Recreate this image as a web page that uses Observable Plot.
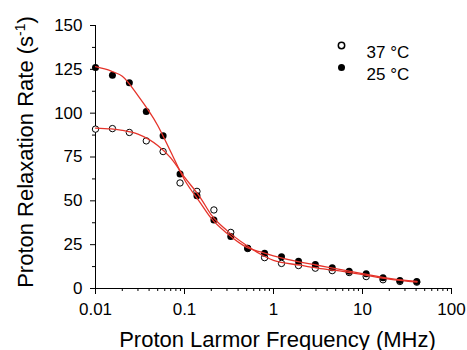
<!DOCTYPE html>
<html><head><meta charset="utf-8">
<script src="https://cdn.jsdelivr.net/npm/d3@7"></script>
<script src="https://cdn.jsdelivr.net/npm/@observablehq/plot@0.6"></script>
<style>
body{margin:0;background:#fff}
#chart{width:467px;height:350px}
</style>
</head><body><div id="chart"></div>
<script>
// measured frequencies (MHz) and relaxation rates (s^-1)
const freq   = [0.01, 0.0155, 0.024, 0.0372, 0.0575, 0.0891, 0.138, 0.214, 0.331, 0.513, 0.794, 1.23, 1.91, 2.95, 4.57, 7.08, 11.0, 17.0, 26.3, 40.7];
const rate37 = [90.9, 91.2, 89.0, 84.2, 78.1, 60.2, 55.4, 44.8, 32.0, 22.8, 17.6, 14.3, 13.1, 11.6, 10.2, 9.1, 6.8, 5.0, 4.0, 3.6];
const rate25 = [126.0, 121.6, 117.4, 100.9, 87.1, 65.3, 52.9, 39.1, 29.6, 22.9, 20.1, 18.1, 15.5, 13.7, 11.8, 9.9, 8.4, 6.1, 4.6, 4.0];
// fitted curves
const fitFreq = [0.01, 0.015, 0.02, 0.03, 0.05, 0.07, 0.1, 0.15, 0.2, 0.3, 0.5, 0.7, 1, 2, 3, 5, 10, 20, 41];
const fit25   = [126.5, 124, 121, 110, 93, 78, 62, 49, 40, 31.5, 23.5, 21, 18.6, 15, 13.4, 11.3, 8.5, 5.8, 4.1];
const fit37   = [91.5, 91, 90.2, 88, 81.5, 74.5, 63.5, 52, 42, 33, 24.5, 19.8, 16.0, 13.3, 11.8, 10.3, 7.9, 5.4, 3.7];
// ticks
const xMajor = [0.01, 0.1, 1, 10, 100];
const xMajorLabels = ["0.01", "0.1", "1", "10", "100"];
const xMinor = [0.02,0.03,0.04,0.05,0.06,0.07,0.08,0.09, 0.2,0.3,0.4,0.5,0.6,0.7,0.8,0.9, 2,3,4,5,6,7,8,9, 20,30,40,50,60,70,80,90];
const yMajor = [0, 25, 50, 75, 100, 125, 150];
const yMinor = [12.5, 37.5, 62.5, 87.5, 112.5, 137.5];
const legendLabels = ["37 °C", "25 °C"];
const xTitle = "Proton Larmor Frequency (MHz)";
const yTitle = "Proton Relaxation Rate (s-1)";

const pts37 = freq.map((f, i) => ({f, r: rate37[i]}));
const pts25 = freq.map((f, i) => ({f, r: rate25[i]}));
const curve25 = fitFreq.map((f, i) => ({f, r: fit25[i]}));
const curve37 = fitFreq.map((f, i) => ({f, r: fit37[i]}));

const red = "#e5332a";
const chart = Plot.plot({
  width: 467,
  height: 350,
  marginLeft: 95,
  marginRight: 16,
  marginTop: 25,
  marginBottom: 62,
  style: {fontFamily: "'Liberation Sans', Arial, Helvetica, sans-serif", fontSize: "17px", color: "black", background: "white"},
  x: {type: "log", domain: [0.01, 100], axis: null},
  y: {domain: [0, 150], axis: null},
  marks: [
    Plot.axisX(xMinor, {tickSize: 3, tickFormat: () => "", label: null}),
    Plot.axisX(xMajor, {tickSize: 6, tickPadding: 8, tickFormat: (d) => xMajorLabels[xMajor.indexOf(d)], fontSize: 17, label: null}),
    Plot.axisY(yMinor, {tickSize: 3, tickFormat: () => "", label: null}),
    Plot.axisY(yMajor, {tickSize: 5, tickPadding: 8, fontSize: 17, label: null}),
    Plot.ruleX([0.01], {y1: 0, y2: 150, stroke: "black"}),
    Plot.ruleY([0], {x1: 0.01, x2: 100, stroke: "black"}),
    Plot.dot(pts37, {x: "f", y: "r", r: 3.2, stroke: "black", fill: "white", strokeWidth: 1}),
    Plot.dot(pts25, {x: "f", y: "r", r: 3.5, fill: "black"}),
    Plot.line(curve25, {x: "f", y: "r", stroke: red, strokeWidth: 1.3, curve: "monotone-x"}),
    Plot.line(curve37, {x: "f", y: "r", stroke: red, strokeWidth: 1.3, curve: "monotone-x"}),
    // legend
    Plot.dot([legendLabels[0]], {frameAnchor: "top-left", dx: 246, dy: 20, r: 3.2, stroke: "black", fill: "white"}),
    Plot.dot([legendLabels[1]], {frameAnchor: "top-left", dx: 246, dy: 42, r: 3.5, fill: "black"}),
    Plot.text([legendLabels[0]], {text: d => d, frameAnchor: "top-left", dx: 271, dy: 20, textAnchor: "start", fontSize: 17}),
    Plot.text([legendLabels[1]], {text: d => d, frameAnchor: "top-left", dx: 271, dy: 42, textAnchor: "start", fontSize: 17}),
    // axis titles
    Plot.text([xTitle], {text: d => d, frameAnchor: "bottom", dx: 4, dy: 58, lineAnchor: "bottom", textAnchor: "middle", fontSize: 22}),
    Plot.text([yTitle], {text: d => d, frameAnchor: "left", rotate: -90, dx: -70, dy: -5, lineAnchor: "middle", textAnchor: "middle", fontSize: 22})
  ]
});
document.getElementById("chart").appendChild(chart);
// superscript for s^-1
for (const t of chart.querySelectorAll("text")) {
  if (t.textContent === yTitle) {
    t.textContent = "";
    const ns = "http://www.w3.org/2000/svg";
    const a = document.createElementNS(ns, "tspan"); a.textContent = "Proton Relaxation Rate (s";
    const b = document.createElementNS(ns, "tspan"); b.textContent = "-1"; b.setAttribute("font-size", "14"); b.setAttribute("dy", "-8");
    const c = document.createElementNS(ns, "tspan"); c.textContent = ")"; c.setAttribute("dy", "8");
    t.append(a, b, c);
  }
}
</script>
</body></html>
